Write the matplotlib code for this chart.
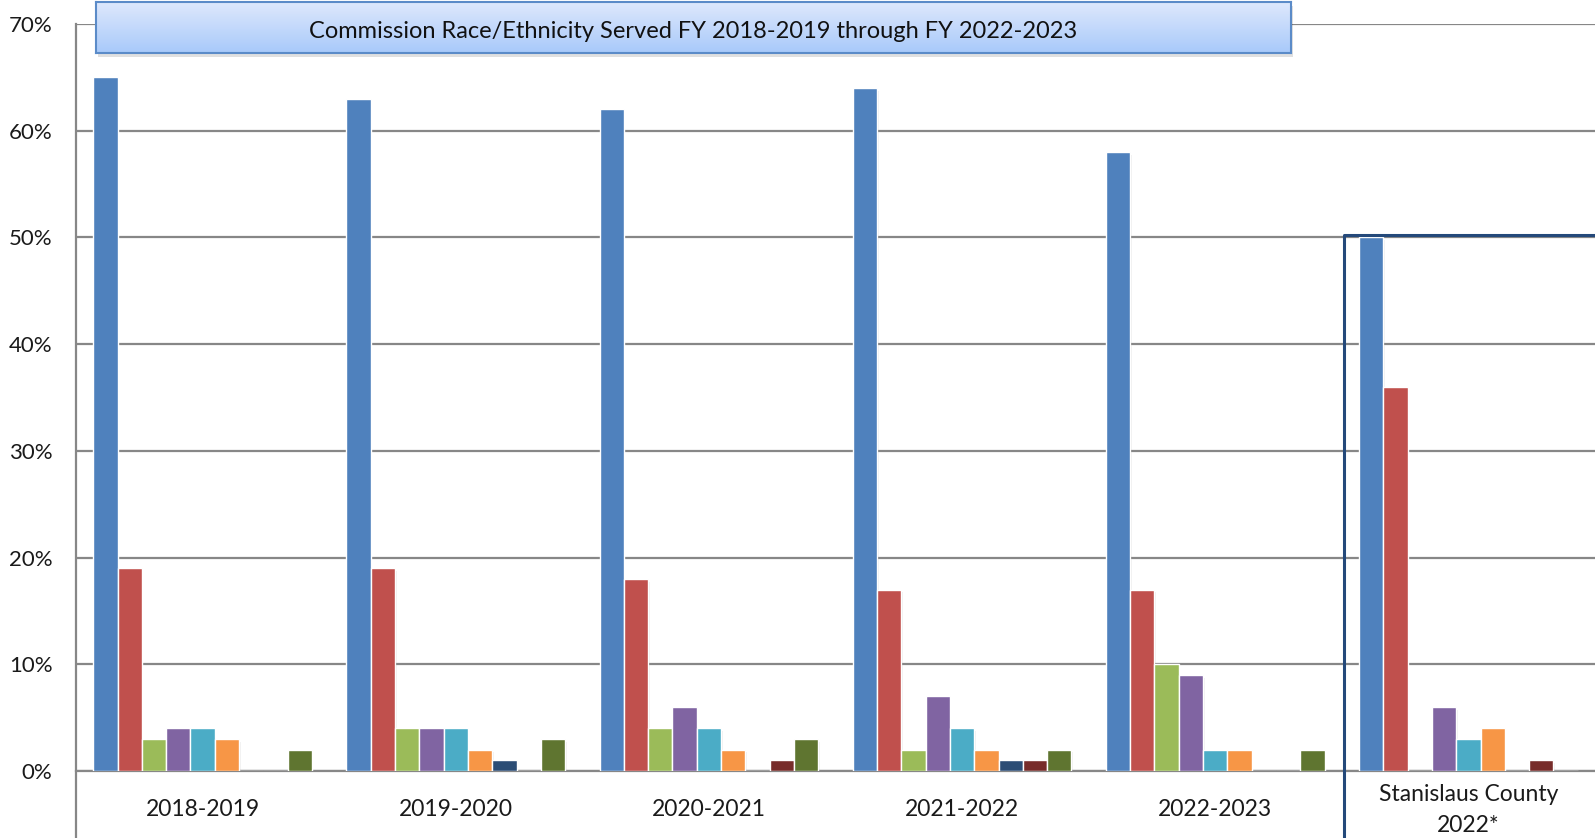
import matplotlib
matplotlib.use("Agg")
import matplotlib.pyplot as plt
import numpy as np
from matplotlib.patches import Rectangle
from matplotlib.lines import Line2D

plt.rcParams['font.family'] = ['Lato', 'DejaVu Sans']

groups = ['2018-2019', '2019-2020', '2020-2021', '2021-2022', '2022-2023',
          'Stanislaus County\n2022*']

# one list per race/ethnicity series (percent), in the order they appear in each group
s_blue = [65, 63, 62, 64, 58, 50]
s_red = [19, 19, 18, 17, 17, 36]
s_green = [3, 4, 4, 2, 10, 0]
s_purple = [4, 4, 6, 7, 9, 6]
s_cyan = [4, 4, 4, 4, 2, 3]
s_orange = [3, 2, 2, 2, 2, 4]
s_navy = [0, 1, 0, 1, 0, 0]
s_maroon = [0, 0, 1, 1, 0, 1]
s_olive = [2, 3, 3, 2, 2, 0]

series = [s_blue, s_red, s_green, s_purple, s_cyan, s_orange, s_navy, s_maroon, s_olive]
colors = ['#4F81BD', '#C0504D', '#9BBB59', '#8064A2', '#4BACC6', '#F79646',
          '#2C4D75', '#772C2A', '#5F7530']

W, H = 1595, 838
fig = plt.figure(figsize=(W / 100, H / 100), dpi=100)
ax = fig.add_axes([76 / W, 67 / H, 1 - 76 / W, (771 - 24) / H])

x = np.arange(len(groups))
bw = 0.096
for k, (vals, c) in enumerate(zip(series, colors)):
    off = (k - 4) * bw
    # soft shadow
    ax.bar(x + off + 0.006, vals, bw, bottom=-0.25, color='#000000', alpha=0.06, zorder=2)
    ax.bar(x + off, vals, bw, color=c, edgecolor='white', linewidth=1.0, zorder=3)

ax.set_xlim(-0.5, 5.5)
ax.set_ylim(0, 70)
ax.set_yticks(range(0, 71, 10))
ax.set_yticklabels([f'{v}%' for v in range(0, 71, 10)])
ax.yaxis.grid(True, color='#878787', linewidth=1.6, zorder=0)
ax.set_axisbelow(True)
ax.set_xticks(x)
ax.set_xticklabels(groups, linespacing=1.55)
for lab in ax.get_xticklabels():
    lab.set_va('center')
ax.tick_params(axis='x', length=0, pad=28, labelsize=16.5, colors='#1a1a1a')
ax.tick_params(axis='y', length=0, pad=17, labelsize=16, colors='#1a1a1a')

for sp in ['top', 'right']:
    ax.spines[sp].set_visible(False)
ax.spines['bottom'].set_color('#878787')
ax.spines['bottom'].set_linewidth(1.6)
ax.spines['left'].set_visible(False)

# left axis line runs past 0% to the bottom of the image
fig.add_artist(Line2D([76 / W, 76 / W], [0, (H - 24) / H], color='#878787', lw=1.6))

# highlight frame around Stanislaus County
fig.add_artist(Line2D([1344 / W, 1344 / W, 1.0], [0, (H - 235) / H, (H - 235) / H],
                      color='#24497A', lw=2.2))

# title box with gradient and shadow
bx0, by0, bw_, bh_ = 96 / W, (H - 53) / H, 1195 / W, 51 / H
fig.add_artist(Rectangle((bx0 + 2 / W, by0 - 4 / H), bw_, bh_, transform=fig.transFigure,
                         facecolor='#000000', alpha=0.12, edgecolor='none', zorder=0.5))
tax = fig.add_axes([bx0, by0, bw_, bh_])
tax.set_zorder(2)
grad = np.linspace(0, 1, 64).reshape(-1, 1)
top = np.array([0.87, 0.91, 0.99])
bot = np.array([0.66, 0.79, 0.98])
img = top[None, None, :] * (1 - grad[:, :, None]) + bot[None, None, :] * grad[:, :, None]
tax.imshow(img, aspect='auto', extent=[0, 1, 0, 1])
tax.set_xticks([])
tax.set_yticks([])
for sp in tax.spines.values():
    sp.set_color('#5B8BC8')
    sp.set_linewidth(1.5)
tax.text(0.5, 0.42, 'Commission Race/Ethnicity Served FY 2018-2019 through FY 2022-2023',
         ha='center', va='center', fontsize=17, color='#111111', transform=tax.transAxes)

fig.savefig('out.png', dpi=100)
